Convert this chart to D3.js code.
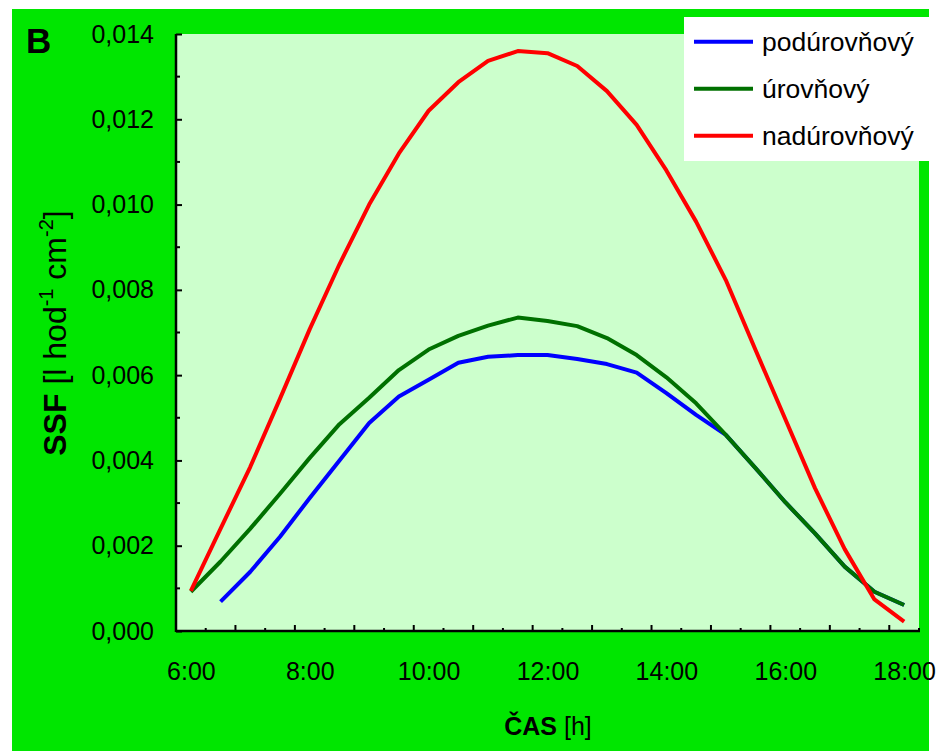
<!DOCTYPE html>
<html>
<head>
<meta charset="utf-8">
<script src="https://cdn.jsdelivr.net/npm/d3@7"></script>
<style>
  body { margin: 0; background: #fff; }
  svg text { font-family: "Liberation Sans", Arial, sans-serif; fill: #000; }
</style>
</head>
<body>
<svg id="chart" width="939" height="751"></svg>
<script>
// kategorie - cas po 30 min
let casy = ["6:00", "6:30", "7:00", "7:30", "8:00", "8:30", "9:00", "9:30", "10:00", "10:30",
  "11:00", "11:30", "12:00", "12:30", "13:00", "13:30", "14:00", "14:30", "15:00", "15:30",
  "16:00", "16:30", "17:00", "17:30", "18:00"]

let podurovnovy = [null, 0.00069, 0.00139, 0.00221, 0.00312, 0.00400, 0.00488, 0.00550, 0.00589, 0.00629,
  0.00643, 0.00647, 0.00647, 0.00638, 0.00626, 0.00606, 0.00558, 0.00507, 0.00460, 0.00382,
  0.00302, 0.00229, 0.00151, 0.00092, 0.00061]

let urovnovy = [0.00092, 0.00163, 0.00240, 0.00322, 0.00406, 0.00485, 0.00547, 0.00612, 0.00660, 0.00692,
  0.00716, 0.00735, 0.00727, 0.00715, 0.00687, 0.00647, 0.00595, 0.00534, 0.00460, 0.00382,
  0.00302, 0.00229, 0.00151, 0.00092, 0.00061]

let nadurovnovy = [0.00094, 0.00240, 0.00385, 0.00545, 0.00708, 0.00860, 0.01000, 0.01120, 0.01220, 0.01287,
  0.01337, 0.01360, 0.01355, 0.01325, 0.01266, 0.01187, 0.01080, 0.00960, 0.00823, 0.00659,
  0.00497, 0.00335, 0.00192, 0.00074, 0.00022]

let serie = [
  { name: "podúrovňový", values: podurovnovy, color: "#0000ff" },
  { name: "úrovňový", values: urovnovy, color: "#007000" },
  { name: "nadúrovňový", values: nadurovnovy, color: "#ff0000" }
]

let yTicks = [0, 0.002, 0.004, 0.006, 0.008, 0.010, 0.012, 0.014]
let yMinor = [0.001, 0.003, 0.005, 0.007, 0.009, 0.011, 0.013]
let xLabels = ["6:00", "8:00", "10:00", "12:00", "14:00", "16:00", "18:00"]

let svg = d3.select("#chart")
let pLeft = 176, pRight = 919, pTop = 34, pBottom = 631

// pozadi
svg.append("rect")
  .attr("x", 12).attr("y", 9)
  .attr("width", 917).attr("height", 742)
  .attr("fill", "#00e600")

svg.append("rect")
  .attr("x", pLeft).attr("y", pTop)
  .attr("width", pRight - pLeft).attr("height", pBottom - pTop)
  .attr("fill", "#ccffcc")

let xScale = d3.scalePoint().domain(casy).range([pLeft, pRight]).padding(0.5)
let yScale = d3.scaleLinear().domain([0, 0.014]).range([pBottom, pTop])

// krivky
let line = d3.line()
  .defined(d => d != null)
  .x((d, i) => xScale(casy[i]))
  .y(d => yScale(d))

svg.selectAll("path.serie")
  .data(serie)
  .enter()
  .append("path")
  .attr("class", "serie")
  .attr("d", d => line(d.values))
  .attr("fill", "none")
  .attr("stroke", d => d.color)
  .attr("stroke-width", 4)
  .attr("stroke-linejoin", "round")

// osa y
let yAxis = d3.axisLeft(yScale)
  .tickValues(yTicks)
  .tickSize(-6)
  .tickPadding(22)
  .tickFormat(d => d3.format(".3f")(d).replace(".", ","))

let yAxisGroup = svg.append("g")
  .attr("transform", `translate(${pLeft},0)`)
  .call(yAxis)
yAxisGroup.select(".domain").remove()
yAxisGroup.selectAll("line").attr("stroke", "#000").attr("stroke-width", 2)
yAxisGroup.selectAll("text").style("font-size", "25px")

svg.selectAll("line.yminor")
  .data(yMinor)
  .enter()
  .append("line")
  .attr("class", "yminor")
  .attr("x1", pLeft).attr("x2", pLeft + 4)
  .attr("y1", d => yScale(d)).attr("y2", d => yScale(d))
  .attr("stroke", "#000").attr("stroke-width", 2)

// osa x
let xAxis = d3.axisBottom(xScale)
  .tickValues(xLabels)
  .tickSize(0)
  .tickPadding(31)

let xAxisGroup = svg.append("g")
  .attr("transform", `translate(0,${pBottom})`)
  .call(xAxis)
xAxisGroup.select(".domain").remove()
xAxisGroup.selectAll("text").style("font-size", "25px")

let step = xScale.step()
let hranice = d3.range(casy.length + 1)
svg.selectAll("line.xtick")
  .data(hranice)
  .enter()
  .append("line")
  .attr("class", "xtick")
  .attr("x1", k => pLeft + k * step).attr("x2", k => pLeft + k * step)
  .attr("y1", pBottom).attr("y2", k => pBottom - (k % 2 == 0 ? 6 : 3))
  .attr("stroke", "#000").attr("stroke-width", 2)

svg.append("line")
  .attr("x1", pLeft).attr("x2", pRight + 1)
  .attr("y1", pBottom).attr("y2", pBottom)
  .attr("stroke", "#000").attr("stroke-width", 2.5)

svg.append("line")
  .attr("x1", pLeft).attr("x2", pLeft)
  .attr("y1", pTop).attr("y2", pBottom + 1)
  .attr("stroke", "#000").attr("stroke-width", 2.5)

// popisky os
svg.append("text")
  .attr("x", 548).attr("y", 735)
  .attr("text-anchor", "middle")
  .style("font-size", "25px")
  .html('<tspan font-weight="bold">ČAS</tspan> [h]')

let yTitle = svg.append("text")
  .attr("transform", "translate(66,333) rotate(-90)")
  .attr("text-anchor", "middle")
  .style("font-size", "32px")
yTitle.append("tspan").attr("font-weight", "bold").text("SSF")
yTitle.append("tspan").text(" [l hod")
yTitle.append("tspan").attr("dy", -13).style("font-size", "20px").text("-1")
yTitle.append("tspan").attr("dy", 13).text(" cm")
yTitle.append("tspan").attr("dy", -13).style("font-size", "20px").text("-2")
yTitle.append("tspan").attr("dy", 13).text("]")

svg.append("text")
  .attr("x", 26).attr("y", 53)
  .attr("font-weight", "bold")
  .style("font-size", "35px")
  .text("B")

// legenda
let legend = svg.append("g")
legend.append("rect")
  .attr("x", 684).attr("y", 17)
  .attr("width", 245).attr("height", 144)
  .attr("fill", "#fff")

let legY = d3.scalePoint().domain(serie.map(d => d.name)).range([41.7, 135.7])

let polozky = legend.selectAll("g.polozka")
  .data(serie)
  .enter()
  .append("g")
  .attr("class", "polozka")
  .attr("transform", d => `translate(0,${legY(d.name)})`)

polozky.append("line")
  .attr("x1", 694).attr("x2", 753)
  .attr("stroke", d => d.color)
  .attr("stroke-width", 4)

polozky.append("text")
  .attr("x", 762).attr("y", 9)
  .style("font-size", "26.5px")
  .text(d => d.name)
</script>
</body>
</html>
